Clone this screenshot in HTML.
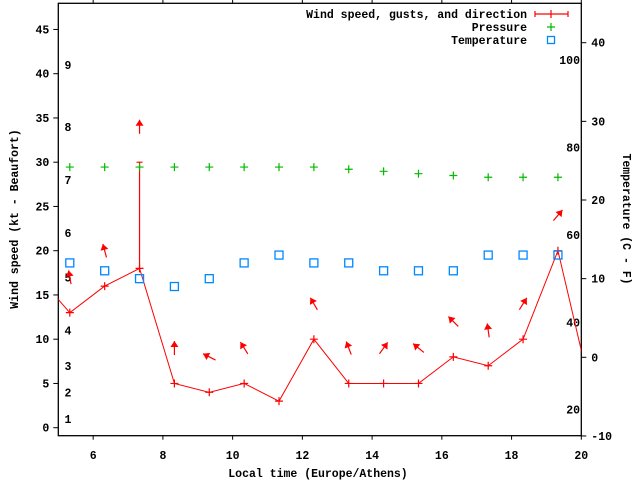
<!DOCTYPE html>
<html><head><meta charset="utf-8"><style>
html,body{margin:0;padding:0;background:#fff}
svg{display:block}
text{font-family:"Liberation Mono",monospace;font-weight:bold;font-size:11.5px;fill:#000}
</style></head><body>
<svg id="chart" width="640" height="480" viewBox="0 0 640 480" xmlns="http://www.w3.org/2000/svg">
<defs><clipPath id="pc"><rect x="58.3" y="3.3" width="523" height="432.4"/></clipPath></defs>
<g id="axes"></g>
<g id="marks" clip-path="url(#pc)"></g>
<g id="legend"></g>
</svg>
<script>
const times=[4.33,5.33,6.33,7.33,8.33,9.33,10.33,11.33,12.33,13.33,14.33,15.33,16.33,17.33,18.33,19.33,20.33];
const windSpeed=[17.5,13,16,18,5,4,5,3,10,5,5,5,8,7,10,20,3.2];
const windGust=[17.5,13,16,30,5,4,5,3,10,5,5,5,8,7,10,20,3.2];
const windDir=[null,350,345,0,0,297,328,null,330,339,36,309,315,352,32,40,null];
const pTimes=[5.33,6.33,7.33,8.33,9.33,10.33,11.33,12.33,13.33,14.33,15.33,16.33,17.33,18.33,19.33];
const pressure=[29.45,29.45,29.45,29.45,29.45,29.45,29.45,29.45,29.2,28.97,28.7,28.5,28.3,28.3,28.3];
const temperature=[12,11,10,9,10,12,13,12,12,11,11,11,13,13,13];
const xTicks=[6,8,10,12,14,16,18,20];
const yTicks=[0,5,10,15,20,25,30,35,40,45];
const tTicks=[-10,0,10,20,30,40];
const fTicks=[20,40,60,80,100];
const beaufortKt=[1,4,7,11,17,22,28,34,41];
const beaufortLbl=['1','2','3','4','5','6','7','8','9'];

const X0=58.3,X1=581.3,YB=435.7,YT=3.3;
const xs=t=>X0+(t-5)*(X1-X0)/15;
const ys=v=>427.7-v*8.85;
const yt=c=>357.3-c*7.865;
const NS='http://www.w3.org/2000/svg';
function mk(tag,attrs,parent,txt){const e=document.createElementNS(NS,tag);for(const k in attrs)e.setAttribute(k,attrs[k]);if(txt!==undefined)e.textContent=txt;parent.appendChild(e);return e;}
const ax=document.getElementById('axes'),mg=document.getElementById('marks'),lg=document.getElementById('legend');

let b=mk('rect',{x:X0,y:YT,width:X1-X0,height:YB-YT,fill:'none',stroke:'#000','stroke-width':1.3},ax);


xTicks.forEach(v=>{const x=xs(v);
 mk('line',{x1:x,x2:x,y1:YB,y2:YB+4,stroke:'#000'},ax);
 mk('line',{x1:x,x2:x,y1:YT,y2:YT-4,stroke:'#000'},ax);
 let t=mk('text',{x:x,y:459,'text-anchor':'middle'},ax,String(v));
 
 });
yTicks.forEach(v=>{const y=ys(v);
 mk('line',{x1:X0-5,x2:X0,y1:y,y2:y,stroke:'#000'},ax);
 let t=mk('text',{x:X0-9,y:y+4,'text-anchor':'end'},ax,String(v));
 
 });
tTicks.forEach(v=>{const y=yt(v);
 mk('line',{x1:X1,x2:X1+5,y1:y,y2:y,stroke:'#000'},ax);
 let t=mk('text',{x:X1+10,y:y+4,'text-anchor':'start'},ax,String(v));
 
 });
fTicks.forEach(v=>{const y=yt((v-32)/1.8);
 let t=mk('text',{x:580,y:y+4,'text-anchor':'end'},ax,String(v));
 
 });
beaufortKt.forEach((v,i)=>{
 let t=mk('text',{x:68,y:ys(v)+4,'text-anchor':'middle'},ax,beaufortLbl[i]);
 
 });
let xt=mk('text',{x:318,y:477,'text-anchor':'middle'},ax,'Local time (Europe/Athens)');


let yl=mk('text',{x:0,y:0,'text-anchor':'middle',transform:'translate(18,219) rotate(-90)'},ax,'Wind speed (kt - Beaufort)');


let yr=mk('text',{x:0,y:0,'text-anchor':'middle',transform:'translate(623,219) rotate(90)'},ax,'Temperature (C - F)');



let pts=times.map((t,i)=>xs(t)+','+ys(windSpeed[i])).join(' ');
let pl=mk('polyline',{points:pts,fill:'none',stroke:'#f00','stroke-width':1},mg);


times.forEach((t,i)=>{const x=xs(t),y=ys(windSpeed[i]),g=ys(windGust[i]);
 let c=mk('path',{d:`M${x-4},${y}H${x+4}M${x},${y-4}V${y+4}`,stroke:'#f00','stroke-width':1.2},mg);
 
 
 if(windGust[i]>windSpeed[i]){
  let e=mk('path',{d:`M${x},${y}V${g}M${x-3},${g}H${x+3}`,stroke:'#f00','stroke-width':1.2},mg);
  
  }
 if(windDir[i]!==null){
  const cy=ys(windGust[i]+4),a=windDir[i]*Math.PI/180,L=14;
  const dx=Math.sin(a),dy=-Math.cos(a);
  const hx=x+dx*L/2,hy=cy+dy*L/2,tx=x-dx*L/2,ty=cy-dy*L/2;
  const px=-dy,py=dx;
  const bx=hx-dx*6,by=hy-dy*6;
  let ar=mk('g',{},mg);
  
  
  mk('line',{x1:tx,y1:ty,x2:hx,y2:hy,stroke:'#f00','stroke-width':1.2},ar);
  mk('polygon',{points:`${hx},${hy} ${bx+px*4},${by+py*4} ${bx-px*4},${by-py*4}`,fill:'#f00'},ar);}
});
pTimes.forEach((t,i)=>{const x=xs(t),y=ys(pressure[i]);
 let c=mk('path',{d:`M${x-4},${y}H${x+4}M${x},${y-4}V${y+4}`,stroke:'#0b0','stroke-width':1.2},mg);
 
 
 let s=mk('rect',{x:x-4,y:yt(temperature[i])-4,width:8,height:8,fill:'none',stroke:'#08f','stroke-width':1.3},mg);
 
 });

const lbls=['Wind speed, gusts, and direction','Pressure','Temperature'];
lbls.forEach((l,i)=>{const y=14+i*13;
 let t=mk('text',{x:527,y:y+4,'text-anchor':'end'},lg,l);
 
 });
mk('path',{d:'M535,14H568M535,11V17M568,11V17M551,10V18',stroke:'#f00','stroke-width':1.2},lg);
mk('path',{d:'M547,27H555M551,23V31',stroke:'#0b0','stroke-width':1.2},lg);
mk('rect',{x:547.5,y:36.5,width:7,height:7,fill:'none',stroke:'#08f','stroke-width':1.3},lg);
</script>
</body></html>
